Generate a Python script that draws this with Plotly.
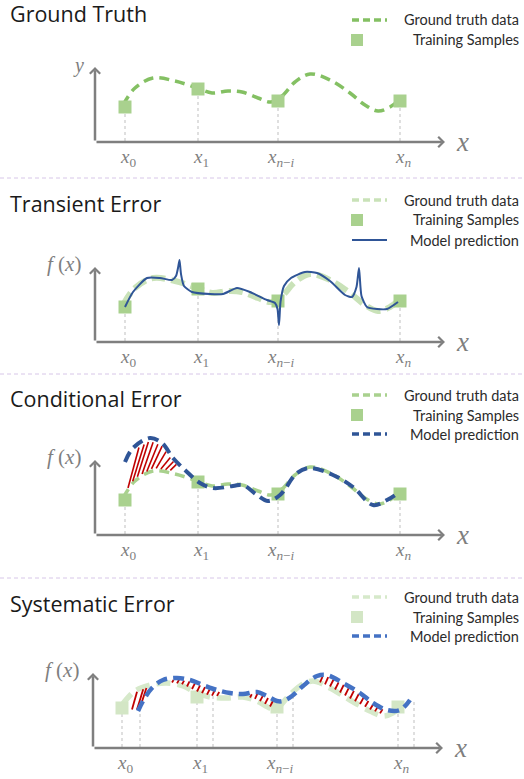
import numpy as np
import plotly.graph_objects as go

W, H = 524, 779

# ---------------- data (chart units, origin at the axes corner) ----------------
TITLES = ["Ground Truth", "Transient Error", "Conditional Error", "Systematic Error"]
LEGEND_LABELS = ["Ground truth data", "Training Samples", "Model prediction"]
TICK_LABELS = ["<i>x</i><sub>0</sub>", "<i>x</i><sub>1</sub>",
               "<i>x</i><sub><i>n</i>−<i>i</i></sub>", "<i>x</i><sub><i>n</i></sub>"]

SAMPLE_X = [30, 103, 183, 305]
SAMPLE_Y = [35, 53, 41, 41]

GT_X = [28, 40, 58, 80, 102, 117, 133, 147, 163, 176, 187, 200, 215, 235, 255, 270, 283, 295, 303]
GT_Y = [37, 54, 64, 61, 54, 49, 51, 50, 44, 40, 46, 60, 68, 62, 49, 37, 31, 35, 41]

# transient error prediction
PRED2_X = [30, 38, 52, 65, 77, 81, 83, 84.5, 86, 89, 97, 115, 128, 142, 155, 172, 180, 182.5,
           184, 185.5, 189, 196, 210, 222, 235, 250, 257, 261.5, 264, 266.5, 272, 282, 292, 303]
PRED2_Y = [35, 50, 64, 64, 62, 66, 74, 82, 68, 56, 50, 48, 48, 54, 50, 42, 39, 33,
           17, 40, 56, 64, 70, 69, 61, 47, 45, 55, 74, 46, 35, 33, 33, 40]

# conditional error prediction
PRED3_X = [30, 38, 55, 67, 78, 92, 105, 118, 138, 148, 162, 173, 185, 202, 215, 238, 258, 278, 292, 303]
PRED3_Y = [73, 87, 97, 92, 77, 63, 52, 47, 49, 50, 40, 34, 40, 62, 67, 60, 48, 30, 35, 42]
HATCH3_RANGES = [(33, 77)]

# systematic error
SAMPLE4_X = [29, 104, 184, 305]
SAMPLE4_Y = [40, 51, 41, 41]
SHIFT4_X = [47, 120, 200, 321]
GT4_X = [29, 42, 57, 74, 90, 104, 117, 134, 150, 164, 177, 184, 194, 207, 220, 237, 257, 277, 290, 300, 305]
GT4_Y = [43, 57, 63, 65, 62, 55, 51, 50, 51, 47, 40, 40, 50, 62, 67, 60, 48, 37, 32, 35, 40]
PRED4_X = [45, 50, 59, 70, 84, 97, 110, 124, 137, 150, 164, 174, 184, 190, 199, 210, 224, 234,
           250, 267, 280, 294, 307, 317]
PRED4_Y = [37, 47, 60, 68, 70, 68, 63, 58, 55, 54, 56, 52, 47, 47, 52, 62, 72, 73,
           65, 55, 45, 38, 38, 48]
HATCH4_RANGES = [(39, 50), (74, 127), (157, 177), (197, 207), (227, 287)]

# ---------------- layout geometry ----------------
PANELS = [
    dict(origin=(95, 142), band=(0, 178), title_y=14, legend_y=[20, 40]),
    dict(origin=(95, 342), band=(178, 375), title_y=203, legend_y=[200, 220, 240]),
    dict(origin=(95, 535), band=(375, 578), title_y=398, legend_y=[395, 415, 434]),
    dict(origin=(93, 748), band=(578, 779), title_y=603, legend_y=[597, 617, 636]),
]
SEPARATORS = [178, 374, 578]

GREEN_SQ = "#a9d18e"
GREY = "#7f7f7f"
BLUE = "#2f5597"
RED = "#c00000"
MATHFONT = "Liberation Serif"
TEXTFONT = "Open Sans"
LEGFONT = "Lato"

fig = go.Figure()
layout = dict(width=W, height=H, margin=dict(l=0, r=0, t=0, b=0), autosize=False,
              plot_bgcolor="white", paper_bgcolor="white", showlegend=False)
annotations = []
shapes = []

def ax_suffix(i):
    return "" if i == 0 else str(i + 1)

for i, p in enumerate(PANELS):
    k = ax_suffix(i)
    ox, oy = p["origin"]
    top, bot = p["band"]
    layout["xaxis" + k] = dict(domain=[0, 1], range=[-ox, W - ox], visible=False,
                               anchor="y" + k, fixedrange=True)
    layout["yaxis" + k] = dict(domain=[1 - bot / H, 1 - top / H], range=[oy - bot, oy - top],
                               visible=False, anchor="x" + k, fixedrange=True)

def add(i, x, y, **kw):
    k = ax_suffix(i)
    fig.add_trace(go.Scatter(x=x, y=y, xaxis="x" + k, yaxis="y" + k, hoverinfo="skip", **kw))

def hatch(gx, gy, px_, py_, ranges, step, slope, inset):
    hx, hy = [], []
    for a, b in ranges:
        for x in np.arange(a, b + 0.01, step):
            y1 = np.interp(x, gx, gy)
            y2 = np.interp(x, px_, py_)
            lo, hi = min(y1, y2), max(y1, y2)
            xe = x + slope * (hi - lo)
            y1e = np.interp(xe, gx, gy)
            y2e = np.interp(xe, px_, py_)
            hie = max(y1e, y2e)
            if hie - inset - (lo + inset) < 2:
                continue
            hx += [x, xe, None]
            hy += [lo + inset, hie - inset, None]
    return hx, hy

gt_styles = [
    dict(color="#84c063", width=3.5, dash="10px,6px"),
    dict(color="#c9e2b8", width=6, dash="14px,6px"),
    dict(color="#a9d18e", width=3.5, dash="10px,6px"),
    dict(color="#d6e9ca", width=5.5, dash="14px,7px"),
]
sq_colors = [GREEN_SQ, GREEN_SQ, GREEN_SQ, "#d3e6c5"]

for i, p in enumerate(PANELS):
    k = ax_suffix(i)
    sx = SAMPLE4_X if i == 3 else SAMPLE_X
    sy = SAMPLE4_Y if i == 3 else SAMPLE_Y
    gx = GT4_X if i == 3 else GT_X
    gy = GT4_Y if i == 3 else GT_Y

    # dotted drop lines
    for xv, yv in zip(sx, sy):
        add(i, [xv, xv], [1, yv], mode="lines", line=dict(color="#bfbfbf", width=1, dash="dot"))
    if i == 3:
        for xv in SHIFT4_X:
            add(i, [xv, xv], [1, float(np.interp(xv, PRED4_X, PRED4_Y))], mode="lines",
                line=dict(color="#bfbfbf", width=1, dash="dot"))

    # ground truth
    add(i, gx, gy, mode="lines", line=dict(shape="spline", smoothing=1.0, **gt_styles[i]))
    # samples
    add(i, sx, sy, mode="markers", marker=dict(symbol="square", size=13, color=sq_colors[i],
                                               line=dict(width=0)))
    # predictions
    if i == 1:
        add(i, PRED2_X, PRED2_Y, mode="lines",
            line=dict(color=BLUE, width=2, shape="spline", smoothing=0.6))
    if i == 2:
        hx, hy = hatch(GT_X, GT_Y, PRED3_X, PRED3_Y, HATCH3_RANGES, 4.7, 0.32, 3)
        add(i, hx, hy, mode="lines", line=dict(color=RED, width=1.6))
        add(i, PRED3_X, PRED3_Y, mode="lines",
            line=dict(color=BLUE, width=4, dash="11px,6px", shape="spline", smoothing=1.0))
    if i == 3:
        hx, hy = hatch(GT4_X, GT4_Y, PRED4_X, PRED4_Y, HATCH4_RANGES, 5, 0.3, 1.5)
        add(i, hx, hy, mode="lines", line=dict(color=RED, width=1.8))
        add(i, PRED4_X, PRED4_Y, mode="lines",
            line=dict(color="#4472c4", width=4.5, dash="11px,6px", shape="spline", smoothing=1.0))

    # axes with arrows
    for tip in [(350, 0), (0, 75)]:
        annotations.append(dict(x=tip[0], y=tip[1], ax=0, ay=0, xref="x" + k, yref="y" + k,
                                axref="x" + k, ayref="y" + k, text="", showarrow=True,
                                arrowhead=4, arrowsize=0.8, arrowwidth=2.5, arrowcolor=GREY,
                                standoff=0, startstandoff=0))
    annotations.append(dict(x=367, y=0, xref="x" + k, yref="y" + k, text="<i>x</i>",
                            showarrow=False, font=dict(family=MATHFONT, size=27, color=GREY)))
    if i == 0:
        annotations.append(dict(x=-17, y=77, xref="x" + k, yref="y" + k, text="<i>y</i>",
                                showarrow=False, font=dict(family=MATHFONT, size=20, color=GREY)))
    else:
        annotations.append(dict(x=-31, y=78, xref="x" + k, yref="y" + k,
                                text="<i>f</i> (<i>x</i>)", showarrow=False,
                                font=dict(family=MATHFONT, size=21, color=GREY)))
    for xv, lab in zip(sx, TICK_LABELS):
        annotations.append(dict(x=xv, y=-16, xref="x" + k, yref="y" + k, text=lab, xshift=3,
                                showarrow=False, font=dict(family=MATHFONT, size=19, color=GREY)))

    # title
    annotations.append(dict(x=8 / W, y=1 - p["title_y"] / H, xref="paper", yref="paper",
                            xanchor="left", yanchor="middle", text=TITLES[i], showarrow=False,
                            font=dict(family=TEXTFONT, size=21.5, color="#1a1a1a")))
    # legend
    rows = p["legend_y"]
    for r, ry in enumerate(rows):
        annotations.append(dict(x=521 / W, y=1 - ry / H, xref="paper", yref="paper",
                                xanchor="right", yanchor="middle", text=LEGEND_LABELS[r],
                                showarrow=False, font=dict(family=LEGFONT, size=14.5, color="#2b2b2b")))
    gs = gt_styles[i]
    shapes.append(dict(type="line", xref="paper", yref="paper", x0=352 / W, x1=387 / W,
                       y0=1 - rows[0] / H, y1=1 - rows[0] / H,
                       line=dict(color=gs["color"], width=min(gs["width"], 3.5), dash="7px,4px")))
    shapes.append(dict(type="rect", xref="paper", yref="paper", x0=351 / W, x1=363 / W,
                       y0=1 - (rows[1] + 6) / H, y1=1 - (rows[1] - 6) / H,
                       fillcolor=sq_colors[i], line=dict(width=0)))
    if i >= 1:
        if i == 1:
            ln = dict(color=BLUE, width=1.8)
        elif i == 2:
            ln = dict(color=BLUE, width=3.5, dash="7px,4px")
        else:
            ln = dict(color="#4472c4", width=3.5, dash="7px,4px")
        shapes.append(dict(type="line", xref="paper", yref="paper", x0=352 / W, x1=387 / W,
                           y0=1 - rows[2] / H, y1=1 - rows[2] / H, line=ln))

for sy_ in SEPARATORS:
    shapes.append(dict(type="line", xref="paper", yref="paper", x0=0, x1=1,
                       y0=1 - sy_ / H, y1=1 - sy_ / H,
                       line=dict(color="#d7c6e8", width=1, dash="4px,3px")))

layout["annotations"] = annotations
layout["shapes"] = shapes
fig.update_layout(**layout)
fig.write_html("out.html", config={"displayModeBar": False},
               post_script="document.body.style.margin='0';document.body.style.overflow='hidden';")
